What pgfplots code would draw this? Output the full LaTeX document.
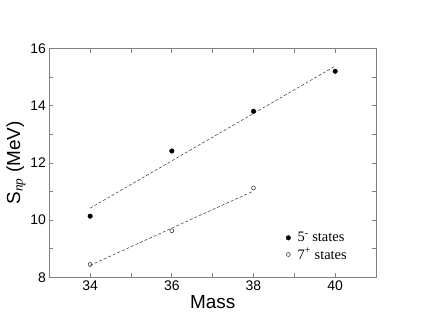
\documentclass[border=0pt]{standalone}
\usepackage{pgfplots}
\pgfplotsset{compat=1.18}
\usepackage{fontspec}
\setmainfont{Liberation Sans}
\newfontfamily\serif{Liberation Serif}
\definecolor{frame}{gray}{0.5}

\begin{document}
\begin{tikzpicture}
\begin{axis}[
    scale only axis,
    width=326.7bp, height=228.6bp,
    xmin=33, xmax=41, ymin=8, ymax=16,
    xtick={34,36,38,40}, ytick={8,10,12,14,16},
    minor xtick={35,37,39}, minor ytick={9,11,13,15},
    tick align=inside,
    major tick length=4bp, minor tick length=4bp,
    axis line style={frame, line width=0.9pt},
    every tick/.style={frame, line width=0.8pt},
    tick label style={font=\fontsize{14}{16}\selectfont},
    /pgf/number format/assume math mode=true,
    xlabel={Mass},
    ylabel={S\textsubscript{\serif\itshape np} (MeV)},
    label style={font=\fontsize{19}{21}\selectfont},
    xlabel style={yshift=2bp},
    ylabel style={yshift=-2bp},
    legend style={at={(rel axis cs:0.715,0.215)}, anchor=north west, draw=none,
        fill=none, font=\serif\fontsize{14.5}{16}\selectfont, row sep=1pt,
        /tikz/every odd column/.append style={column sep=5pt}},
    legend cell align=left,
]
\addplot[only marks, mark=*, mark size=2.3pt, black] coordinates {
    (34,10.14) (36,12.42) (38,13.81) (40,15.21)
};
\addlegendentry{5\textsuperscript{-} states}
\addplot[only marks, mark=o, mark size=2pt, black, thin] coordinates {
    (34,8.45) (36,9.63) (38,11.13)
};
\addlegendentry{7\textsuperscript{+} states}
\addplot[densely dashed, black!80, line width=0.5pt, forget plot] coordinates {
    (34,10.42) (40,15.39)
};
\addplot[densely dashed, black!80, line width=0.5pt, forget plot] coordinates {
    (34,8.42) (38,11.02)
};
\end{axis}
\path[use as bounding box] ([shift={(-49.3bp,-49.7bp)}]current axis.south west)
    rectangle ([shift={(47bp,48.7bp)}]current axis.north east);
\end{tikzpicture}
\end{document}
